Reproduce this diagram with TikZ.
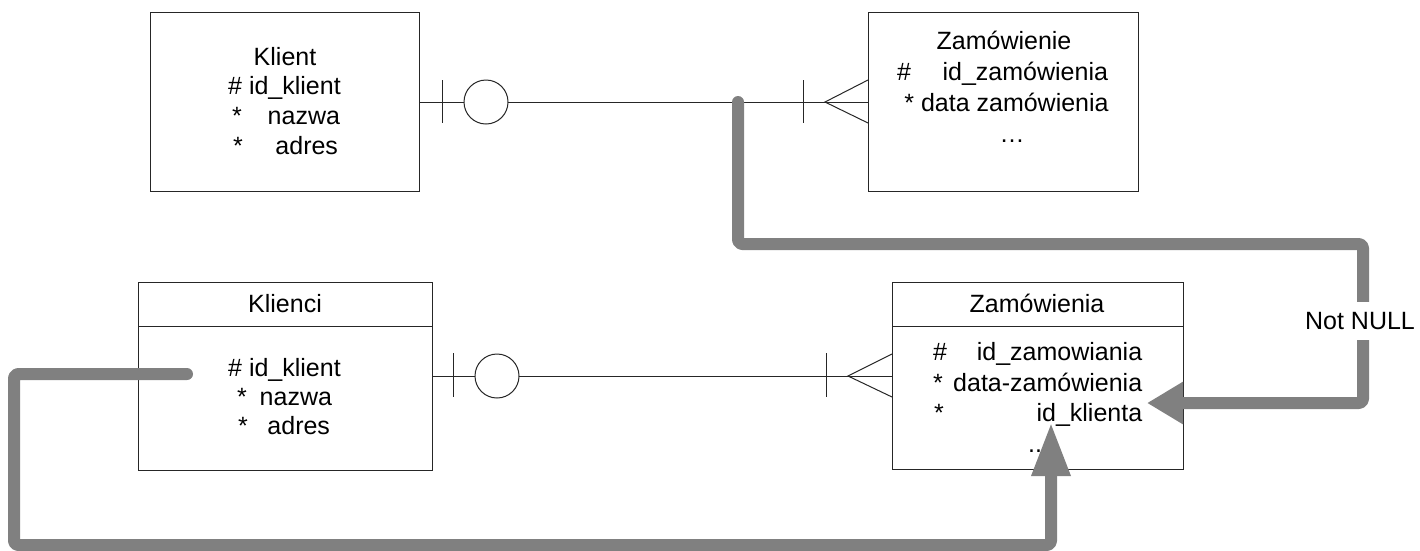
\documentclass[tikz,border=0pt]{standalone}
\usepackage{fontspec}
\setmainfont{Liberation Sans}
\usetikzlibrary{arrows.meta}
\definecolor{fkgray}{HTML}{808080}
\newcommand\fs{\fontsize{25}{30}\selectfont}
\tikzset{
  ent/.style={draw=black!85, line width=1pt, anchor=north west, inner sep=0pt},
  txt/.style={inner sep=0pt, anchor=base, font=\fs},
  txtw/.style={inner sep=0pt, anchor=base west, font=\fs},
  rel/.style={draw=black!85, line width=1pt},
  fk/.style={draw=fkgray, line width=12pt, rounded corners=4pt, line cap=round, line join=round},
}
\begin{document}
\begin{tikzpicture}[x=1pt,y=-1pt]
\useasboundingbox (0,0) rectangle (1420,550);

% ---------- top entities ----------
\node[ent, minimum width=269pt, minimum height=179pt] (klient) at (150,12) {};
\node[ent, minimum width=270pt, minimum height=179pt] (zam) at (868,12) {};

\node[txt] (k1) at (285,65) {Klient};
\node[txt] (k2) at (284.5,94) {\# id\_klient};
\node[txt] (k3) at (286,124) {\makebox[108pt]{*\hfill nazwa}};
\node[txt] (k4) at (285.5,154) {\makebox[105pt]{*\hfill adres}};

\node[txt] (z1) at (1004,49) {Zamówienie};
\node[txt] (z2) at (1002.5,80) {\makebox[211pt]{\#\hfill id\_zamówienia}};
\node[txt] (z3) at (1006.5,111) {* data zamówienia};
\node[txt] (z4) at (1012,142) {…};

% ---------- bottom tables ----------
\node[ent, minimum width=294pt, minimum height=188pt] (klienci) at (138,282) {};
\node[ent, minimum width=291pt, minimum height=187pt] (zamt) at (892,282) {};
\draw[rel] (klienci.west |- 0,326) -- (klienci.east |- 0,326);
\draw[rel] (zamt.west |- 0,326) -- (zamt.east |- 0,326);

\node[txt] (c0) at (285,312) {Klienci};
\node[txt] (c1) at (284.5,376) {\# id\_klient};
\node[txt] (c2) at (284.5,405) {\makebox[95pt]{*\hfill nazwa}};
\node[txt] (c3) at (284,434) {\makebox[92pt]{*\hfill adres}};

\node[txt] (t0) at (1037,312) {Zamówienia};
\node[txtw] (t1) at (933,360) {\makebox[209pt]{\#\hfill id\_zamowiania}};
\node[txtw] (t2) at (933,391) {\makebox[209pt]{*\hfill data-zamówienia}};
\node[txtw] (t3) at (934,421) {\makebox[208pt]{*\hfill id\_klienta}};
\node[txtw] (t4) at (1028,452) {..};

% ---------- top relationship ----------
\draw[rel] (klient.east |- 0,102) -- (zam.west |- 0,102);
\draw[rel] (442,80) -- (442,123);
\node[circle, draw=black!85, line width=1pt, fill=white, minimum size=44pt, inner sep=0pt] (o1) at (486,102) {};
\draw[rel] (803,80) -- (803,123);
\coordinate (cf1) at (825,102);
\draw[rel] (zam.west |- 0,80) -- (cf1) -- (zam.west |- 0,123);

% ---------- bottom relationship ----------
\draw[rel] (klienci.east |- 0,376) -- (zamt.west |- 0,376);
\draw[rel] (453,353) -- (453,397);
\node[circle, draw=black!85, line width=1pt, fill=white, minimum size=44pt, inner sep=0pt] (o2) at (497,376) {};
\draw[rel] (826,353) -- (826,397);
\coordinate (cf2) at (848,376);
\draw[rel] (zamt.west |- 0,354) -- (cf2) -- (zamt.west |- 0,397);

% ---------- foreign key arrows ----------
\coordinate (s1) at (738,102);
\coordinate (tipA) at (1147,403);
\draw[fk, -{Triangle[length=36pt,width=40pt]}]
  (s1) -- (738,244) -- (1363,244) -- (1363,403) -- (tipA);
\node[fill=white, inner xsep=2pt, inner ysep=10pt, font=\fs] (nn) at (1360,321) {Not NULL};

\coordinate (s2) at (187,374);
\coordinate (tipB) at (1051,422);
\draw[fk, -{Triangle[length=54pt,width=36pt]}]
  (s2) -- (14,374) -- (14,545) -- (1051,545) -- (tipB);
\end{tikzpicture}
\end{document}
